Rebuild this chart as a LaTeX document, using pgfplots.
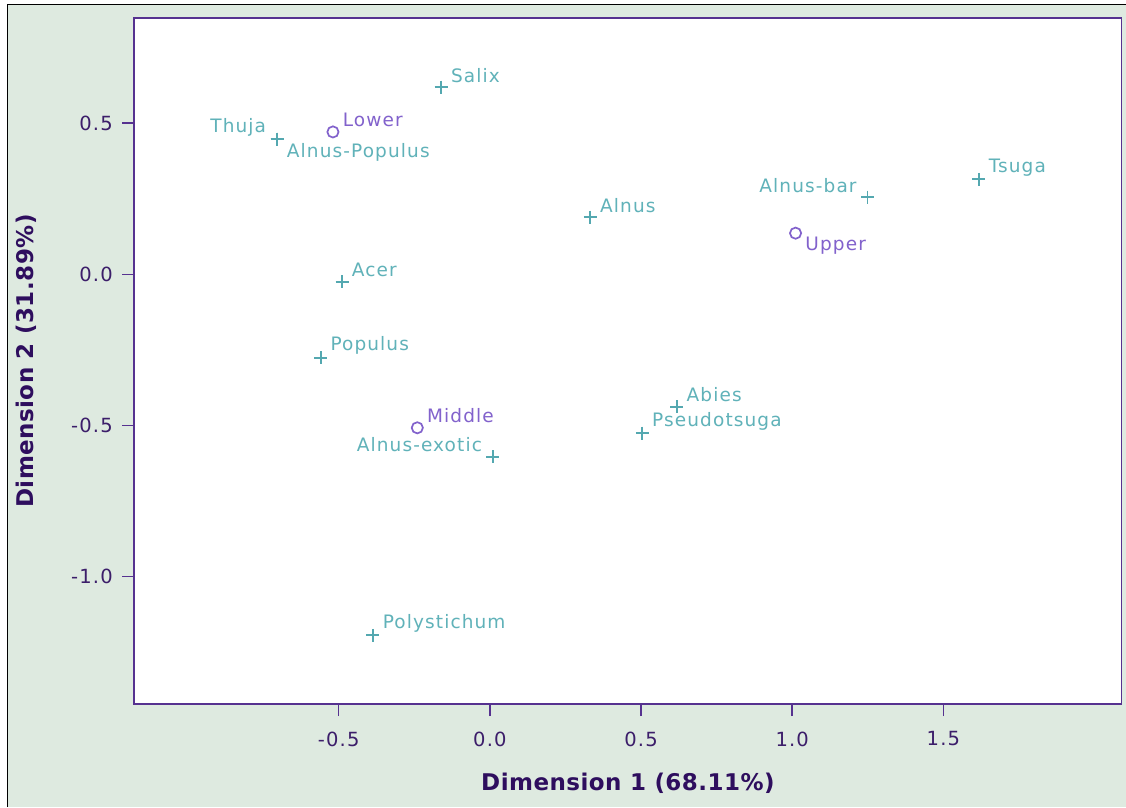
\documentclass[border=0pt]{standalone}
\usepackage{fontspec}
\setmainfont{DejaVu Sans}
\newfontfamily\trackfam[LetterSpace=6]{DejaVu Sans}
\newfontfamily\trackbold[LetterSpace=2]{DejaVu Sans Bold}
\usepackage{pgfplots}
\pgfplotsset{compat=1.18}

\definecolor{bgcol}{RGB}{222,234,224}
\definecolor{framecol}{RGB}{86,50,144}
\definecolor{tickcol}{RGB}{60,30,106}
\definecolor{labcol}{RGB}{46,14,94}
\definecolor{rowcol}{RGB}{96,178,185}
\definecolor{markcol}{RGB}{84,168,176}
\definecolor{colcol}{RGB}{130,98,204}

\newcommand{\ptfont}{\trackfam\fontsize{18.5}{22}\selectfont}

\pgfplotsset{
  rowpts/.style={only marks, color=markcol, mark=+, mark size=6.5pt,
    mark options={draw=markcol, line width=1.9pt}},
  colpts/.style={only marks, color=colcol, mark=o, mark size=5.6pt,
    mark options={draw=colcol, line width=1.7pt}},
  lab/.style n args={4}{nodes near coords, point meta=explicit symbolic,
    every node near coord/.append style={anchor=#1, xshift=#2, yshift=#3,
      inner sep=0pt, font=\ptfont, text=#4}},
}

\begin{document}
\begin{tikzpicture}
% page and panel background
\path[use as bounding box] (-134.3pt,-103pt) rectangle (991.7pt,704pt);
\fill[white] (-134.3pt,-103pt) rectangle (991.7pt,704pt);
\fill[bgcol] (-127pt,-103pt) rectangle (991.7pt,699.5pt);
\draw[black, line width=1.4pt] (-127pt,-103pt) -- (-127pt,699.5pt) -- (991.7pt,699.5pt);

\begin{axis}[
  scale only axis,
  width=987.2pt, height=685.7pt,
  xmin=-1.176, xmax=2.089,
  ymin=-1.422, ymax=0.847,
  axis background/.style={fill=white},
  axis line style={framecol, line width=1.9pt},
  tick align=outside,
  tick pos=left,
  major tick length=12pt,
  tick style={framecol, line width=1.5pt},
  xtick={-0.5,0,0.5,1,1.5},
  xticklabels={-0.5,0.0,0.5,1.0,1.5},
  ytick={-1,-0.5,0,0.5},
  yticklabels={-1.0,-0.5,0.0,0.5},
  tick label style={font=\trackfam\fontsize{19.5}{22}\selectfont, text=tickcol},
  xticklabel style={yshift=-12pt},
  yticklabel style={xshift=-6pt},
  xlabel={Dimension 1 (68.11\%)},
  ylabel={Dimension 2 (31.89\%)},
  label style={font=\trackbold\fontsize{23}{27}\selectfont, text=labcol},
  xlabel style={at={(axis description cs:0.5,-0.1152)}, anchor=center},
  ylabel style={at={(axis description cs:-0.1094,0.5)}, anchor=center},
  clip=false,
]
% species, label above right
\addplot[rowpts, lab={west}{9pt}{12pt}{rowcol}] coordinates {
  (-0.161, 0.619) [Salix]
  ( 0.332, 0.189) [Alnus]
  ( 1.617, 0.314) [Tsuga]
  (-0.489,-0.025) [Acer]
  (-0.560,-0.276) [Populus]
  ( 0.618,-0.438) [Abies]
  ( 0.504,-0.526) [Pseudotsuga]
  (-0.387,-1.195) [Polystichum]
};
% species, label above left
\addplot[rowpts, lab={east}{-10pt}{12pt}{rowcol}] coordinates {
  (-0.704, 0.447) [Thuja]
  ( 1.249, 0.255) [Alnus-bar]
  ( 0.010,-0.604) [Alnus-exotic]
};
% species, label below right
\addplot[rowpts, lab={west}{9pt}{-13pt}{rowcol}] coordinates {
  (-0.704, 0.447) [Alnus-Populus]
};
% positions, label above right
\addplot[colpts, lab={west}{9pt}{12pt}{colcol}] coordinates {
  (-0.519, 0.471) [Lower]
  (-0.240,-0.508) [Middle]
};
% positions, label below right
\addplot[colpts, lab={west}{9pt}{-13pt}{colcol}] coordinates {
  ( 1.011, 0.136) [Upper]
};
\end{axis}
\end{tikzpicture}
\end{document}
